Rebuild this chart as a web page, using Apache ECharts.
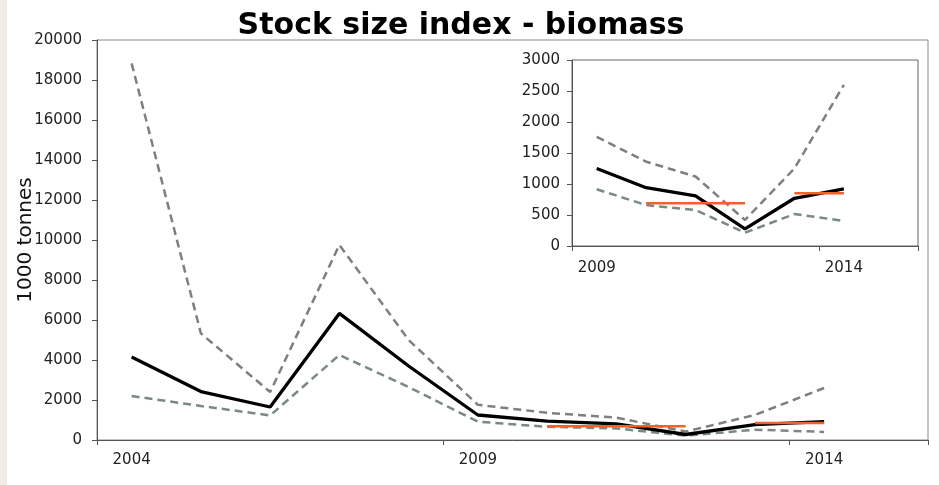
<!DOCTYPE html>
<html>
<head>
<meta charset="utf-8">
<script src="https://cdn.jsdelivr.net/npm/echarts@6/dist/echarts.min.js"></script>
<style>html,body{margin:0;padding:0;background:#fff}#c{width:939px;height:485px}</style>
</head>
<body>
<div id="c"></div>
<script>
// ---- data ----
var years = ['2004','2005','2006','2007','2008','2009','2010','2011','2012','2013','2014','2015'];
var insetYears = ['2009','2010','2011','2012','2013','2014','2015'];
var estimate = [4150, 2420, 1650, 6330, 3700, 1250, 940, 810, 275, 770, 920];
var upper = [18830, 5330, 2400, 9750, 5000, 1760, 1360, 1120, 420, 1250, 2600];
var lower = [2200, 1700, 1230, 4250, 2650, 915, 660, 580, 215, 515, 405];
var mean1 = [null, null, null, null, null, null, 690, 690, 690, null, null];
var mean2 = [null, null, null, null, null, null, null, null, null, 850, 850];
var mainTicks = {min: 0, max: 20000, interval: 2000};
var insetTicks = {min: 0, max: 3000, interval: 500};
var insetStart = years.indexOf('2009');

var FONT = 'DejaVu Sans';
var axisCol = '#555';
var labelCol = '#222';

function sub(a){ return a.slice(insetStart); }

function xAxisDef(cats, gridIndex, margin){
  return {
    type: 'category', data: cats, gridIndex: gridIndex, boundaryGap: true,
    axisLine: {show: true, lineStyle: {color: axisCol, width: 1}},
    axisTick: {show: true, interval: 4, length: 5, lineStyle: {color: axisCol}},
    axisLabel: {interval: 4, color: labelCol, fontFamily: FONT, fontSize: 15, margin: margin},
    splitLine: {show: false}
  };
}
function yAxisDef(t, gridIndex, margin, name){
  var o = {
    type: 'value', gridIndex: gridIndex, min: t.min, max: t.max, interval: t.interval,
    axisLine: {show: true, lineStyle: {color: axisCol, width: 1}},
    axisTick: {show: true, length: 5, lineStyle: {color: axisCol}},
    axisLabel: {color: labelCol, fontFamily: FONT, fontSize: 15, margin: margin,
      formatter: function(v){ return String(v); }},
    splitLine: {show: false}
  };
  if (name) {
    o.name = name; o.nameLocation = 'middle'; o.nameRotate = 90; o.nameGap = 61;
    o.nameMoveOverlap = false;
    o.nameTextStyle = {color: '#111', fontFamily: FONT, fontSize: 20};
  }
  return o;
}
function series(data, xi, kind){
  var ls;
  if (kind === 'est') ls = {color: '#000', width: 3.3, type: 'solid'};
  else if (kind === 'up') ls = {color: '#7f7f7f', width: 2.5, type: [8, 5]};
  else if (kind === 'lo') ls = {color: '#7a8886', width: 2.5, type: [8, 5]};
  else ls = {color: '#f0622a', width: 2.5, type: 'solid'};
  return {
    type: 'line', data: data, xAxisIndex: xi, yAxisIndex: xi, showSymbol: false, symbol: 'none',
    connectNulls: false, lineStyle: ls, z: kind === 'est' ? 4 : (kind === 'mean' ? 5 : 3),
    emphasis: {disabled: true}, silent: true
  };
}

var chart = echarts.init(document.getElementById('c'), null, {renderer: 'canvas'});
chart.setOption({
  animation: false,
  backgroundColor: '#fff',
  title: {
    text: 'Stock size index - biomass', left: 456, top: 6, textAlign: 'center',
    textStyle: {fontFamily: FONT, fontSize: 30, fontWeight: 'bold', color: '#000'}
  },
  graphic: [{type: 'rect', left: 0, top: 0, shape: {width: 7, height: 485}, style: {fill: '#eeece3'}, z: 10}],
  grid: [
    {left: 97, top: 40, right: 11, bottom: 45, show: true, borderColor: '#888', borderWidth: 1, backgroundColor: 'transparent'},
    {left: 572, top: 60, right: 21, bottom: 239, show: true, borderColor: '#666', borderWidth: 1, backgroundColor: '#fff'}
  ],
  xAxis: [xAxisDef(years, 0, 13), xAxisDef(insetYears, 1, 15)],
  yAxis: [yAxisDef(mainTicks, 0, 15, '1000 tonnes'), yAxisDef(insetTicks, 1, 12)],
  series: [
    series(upper, 0, 'up'), series(lower, 0, 'lo'), series(estimate, 0, 'est'),
    series(mean1, 0, 'mean'), series(mean2, 0, 'mean'),
    series(sub(upper), 1, 'up'), series(sub(lower), 1, 'lo'), series(sub(estimate), 1, 'est'),
    series(sub(mean1), 1, 'mean'), series(sub(mean2), 1, 'mean')
  ]
});
</script>
</body>
</html>
